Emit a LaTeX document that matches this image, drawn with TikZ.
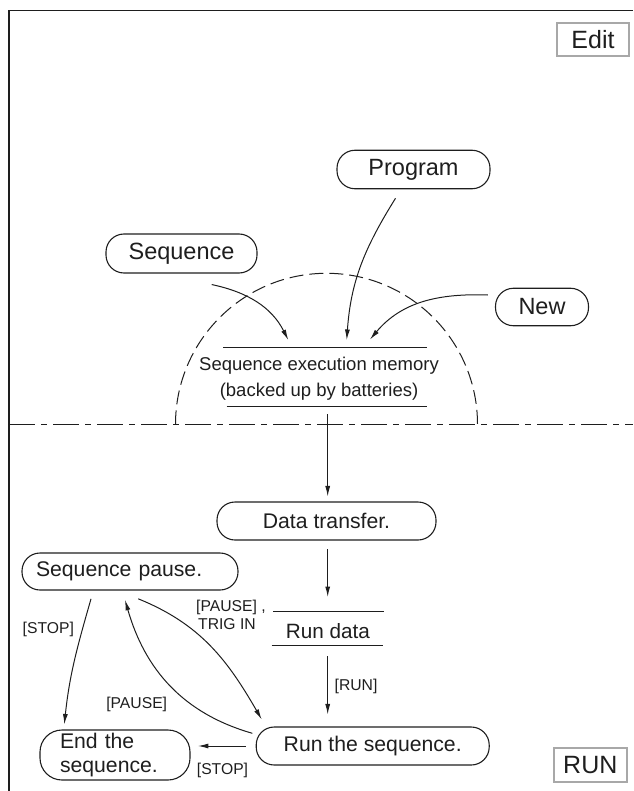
\documentclass[tikz,border=0pt]{standalone}
\usepackage{fontspec}
\setmainfont{Liberation Sans}
\usetikzlibrary{arrows.meta}
\definecolor{ink}{HTML}{1E1E1E}
\definecolor{boxgray}{HTML}{A8A8A8}
\begin{document}
\begin{tikzpicture}[x=1pt,y=1pt,
  every node/.style={text=ink},
  pill/.style={draw=ink, line width=1.1pt, rounded corners=18pt, inner sep=0pt,
    font=\fontsize{21.2pt}{24pt}\selectfont},
  toppill/.style={pill, font=\fontsize{23.5pt}{27pt}\selectfont},
  arr/.style={draw=ink, line width=1pt, -{Latex[length=10.5pt,width=5pt]}},
  lbl/.style={inner sep=0pt, font=\fontsize{15.7pt}{17.5pt}\selectfont},
  modebox/.style={draw=boxgray, line width=2pt, inner sep=0pt,
    font=\fontsize{25pt}{30pt}\selectfont},
  dashdot/.style={draw=ink, line width=1.1pt, dash pattern=on 26pt off 6pt on 6pt off 6pt},
  dasharc/.style={draw=ink, line width=1pt, dash pattern=on 14pt off 6pt},
  rule/.style={draw=ink, line width=1.1pt}
]
\useasboundingbox (0,0) rectangle (633,-791);

% frame
\draw[ink, line width=1.3pt] (9,-791) -- (9,-10.7) -- (633,-10.7);

% mode boxes
\node[modebox, minimum width=72pt, minimum height=33pt] (edit) at (593,-39.5) {Edit};
\node[modebox, minimum width=73.5pt, minimum height=34pt] (runbox) at (590.3,-765) {RUN};

% separator line and memory arc
\draw[dashdot] (9,-424.3) -- (633,-424.3);
\draw[dasharc] (175.5,-424.3) arc[start angle=180, end angle=0, radius=151];

% edit-side nodes
\node[toppill, minimum width=153pt, minimum height=38.5pt] (prog) at (413.5,-169.5) {Program};
\node[toppill, minimum width=151pt, minimum height=39pt] (seq) at (181.5,-253.5) {Sequence};
\node[toppill, minimum width=93pt, minimum height=37.5pt] (new) at (542,-307) {New};

% memory
\node[inner sep=0pt, align=center, font=\fontsize{18.5pt}{25.7pt}\selectfont] (mem) at (319,-379) {Sequence execution memory\\(backed up by batteries)};
\draw[rule] (223.3,-347.3) -- (427.3,-347.3);
\draw[rule] (226.7,-406.7) -- (427.3,-406.7);

\coordinate (ma) at (288.3,-340);
\coordinate (mb) at (346.7,-340);
\coordinate (mc) at (370,-339.5);
\draw[arr] ([xshift=30.2pt,yshift=-11pt]seq.south) to[out=-12,in=117] (ma);
\draw[arr] ([xshift=-18pt,yshift=-9pt]prog.south) to[out=-122,in=86] (mb);
\draw[arr] ([xshift=-7pt,yshift=12pt]new.west) to[out=178,in=50] (mc);

% run-side nodes
\node[pill, minimum width=219pt, minimum height=38pt] (dt) at (326.5,-521) {Data transfer.};
\node[inner sep=0pt, font=\fontsize{20.7pt}{24pt}\selectfont] (rd) at (328,-631) {Run data};
\draw[rule] (273.3,-611.7) -- (384,-611.7);
\draw[rule] (271.7,-645.3) -- (382.7,-645.3);
\node[pill, minimum width=233pt, minimum height=38pt] (run) at (372.7,-746) {Run the sequence.};
\node[pill, text width=188pt, inner xsep=14pt, align=left, minimum height=37pt] (pz) at (130,-571.5) {Sequence pause.};
\node[pill, rounded corners=22pt, text width=110pt, inner xsep=20pt, align=left, minimum height=50pt] (endn) at (115,-755) {End the\\sequence.};

\coordinate (memout) at (327.7,-414);
\draw[arr] (memout) -- (memout |- dt.north) [shorten >=5pt];
\coordinate (dtout) at (327.7,-549);
\draw[arr] (dtout) -- (327.7,-597);
\coordinate (rdout) at (327.7,-656);
\draw[arr] (rdout) -- (rdout |- run.north) [shorten >=12pt];

% transitions
\draw[arr] ([xshift=-39pt,yshift=-8.3pt]pz.south) to[out=-106,in=84] ([xshift=-50.7pt,yshift=5pt]endn.north);
\draw[arr] ([xshift=8.3pt,yshift=-8.3pt]pz.south) to[out=-22,in=120] ([xshift=-111pt,yshift=7pt]run.north);
\draw[arr] ([xshift=-3.3pt,yshift=12.7pt]run.west) to[out=164,in=-74] ([xshift=-5pt,yshift=-9.3pt]pz.south);
\draw[arr] ([xshift=-10pt]run.west) -- ++(-47.7,0);

% labels
\node[lbl, anchor=west, align=left] (lpt) at (196,-615) {[PAUSE] ,\\\hspace*{2pt}TRIG IN};
\node[lbl] (ls1) at (48.3,-629.5) {[STOP]};
\node[lbl] (lp) at (136.7,-704.5) {[PAUSE]};
\node[lbl] (lr) at (356,-686) {[RUN]};
\node[lbl] (ls2) at (222.5,-770) {[STOP]};
\end{tikzpicture}
\end{document}
